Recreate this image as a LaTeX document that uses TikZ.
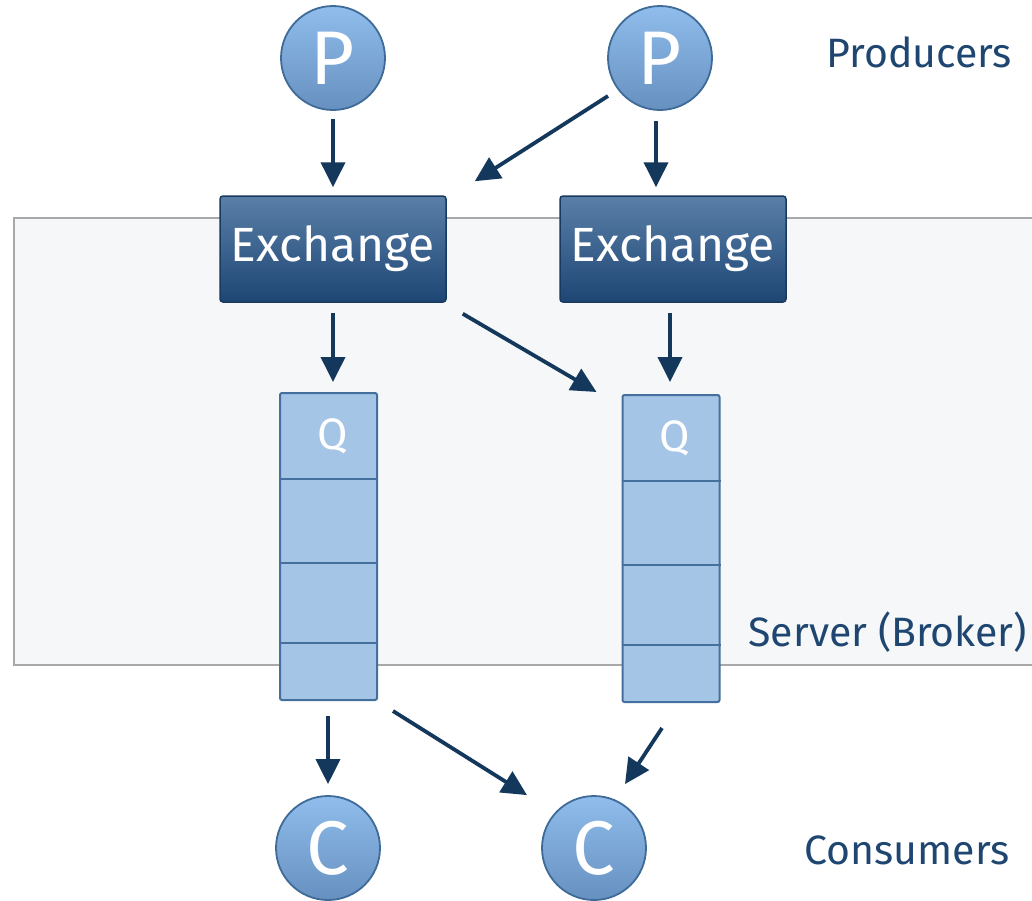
\documentclass[tikz,border=0pt]{standalone}
\usepackage{fontspec}
\setmainfont{Fira Sans}
\usetikzlibrary{arrows.meta,calc}

\definecolor{arrowcol}{HTML}{14375C}
\definecolor{labelcol}{HTML}{1E4670}
\definecolor{serverfill}{HTML}{F6F7F8}
\definecolor{serverline}{HTML}{A8A8A8}
\definecolor{qfill}{HTML}{A5C5E7}
\definecolor{qline}{HTML}{45709E}
\definecolor{circtop}{HTML}{90BDEC}
\definecolor{circbot}{HTML}{6690C0}
\definecolor{circline}{HTML}{3F6B99}
\definecolor{extop}{HTML}{5A80A8}
\definecolor{exbot}{HTML}{1E4674}
\definecolor{exline}{HTML}{183A60}

\tikzset{
  role/.style={circle, minimum size=104pt, inner sep=0pt, draw=circline, line width=1.8pt,
    top color=circtop, bottom color=circbot, text=white,
    font=\fontsize{76}{76}\selectfont},
  exbox/.style={rectangle, rounded corners=3pt, minimum width=226pt, minimum height=106pt,
    inner sep=0pt, draw=exline, line width=1.5pt, top color=extop, bottom color=exbot,
    text=white, font=\fontsize{48}{48}\selectfont},
  queuebox/.style={rectangle, rounded corners=2pt, minimum width=97pt, minimum height=307pt,
    inner sep=0pt, draw=qline, line width=2pt, fill=qfill},
  divider/.style={draw=qline, line width=2pt},
  qlabel/.style={text=white, font=\fontsize{44}{44}\selectfont},
  tag/.style={text=labelcol, anchor=west, font=\fontsize{41}{41}\selectfont},
  flow/.style={draw=arrowcol, line width=3.8pt, -{Triangle[length=25pt,width=24pt]}},
}

\begin{document}
\begin{tikzpicture}[x=1pt,y=-1pt]
  \useasboundingbox (0,0) rectangle (1032,900);
  \fill[white] (0,0) rectangle (1032,900);
  \begin{scope}
    \clip (0,0) rectangle (1032,900);
    % broker area
    \draw[draw=serverline, fill=serverfill, line width=2pt] (14,218) rectangle (1045,665);
  \end{scope}

  % producers
  \node[role] (p1) at (333,58) {P};
  \node[role] (p2) at (660,58) {P};

  % exchanges
  \node[exbox] (ex1) at (333,249) {Exchange};
  \node[exbox] (ex2) at (673,249) {Exchange};

  % queues
  \node[queuebox] (q1) at (328.5,546.5) {};
  \node[queuebox] (q2) at (671,548.5) {};
  \foreach \q in {q1,q2}{
    \draw[divider] ($(\q.north west)+(0,87)$) -- ($(\q.north east)+(0,87)$);
    \draw[divider] ($(\q.north west)+(0,171)$) -- ($(\q.north east)+(0,171)$);
    \draw[divider] ($(\q.north west)+(0,251)$) -- ($(\q.north east)+(0,251)$);
  }
  \node[qlabel] (q1lab) at ($(q1.north)+(4,44)$) {Q};
  \node[qlabel] (q2lab) at ($(q2.north)+(4,44)$) {Q};

  % consumers
  \node[role] (c1) at (328,848) {C};
  \node[role] (c2) at (594,848) {C};

  % labels
  \node[tag] (lprod) at (823,52) {Producers};
  \node[tag] (lserv) at (745,632) {Server (Broker)};
  \node[tag] (lcons) at (801,850) {Consumers};

  % message flow
  \draw[flow] ($(p1.south)+(0,8)$) -- ($(ex1.north)+(0,-8)$);
  \draw[flow] ($(p2.south)+(-4,10)$) -- ($(ex2.north)+(-17,-8)$);
  \draw[flow] ($(p2.center)+(-52,38)$) -- ($(ex1.north east)+(28,-14)$);
  \draw[flow] ($(ex1.south)+(0,10)$) -- ($(q1.north)+(4.5,-10)$);
  \draw[flow] ($(ex2.south)+(-3,10)$) -- ($(q2.north)+(-1,-12)$);
  \draw[flow] ($(ex1.south east)+(16,11)$) -- ($(q2.north west)+(-25,-2)$);
  \draw[flow] ($(q1.south)+(-0.5,15)$) -- ($(c1.north)+(0,-11)$);
  \draw[flow] ($(q1.south east)+(15,10)$) -- ($(c2.north)+(-67,0)$);
  \draw[flow] ($(q2.south)+(-9,25)$) -- ($(c2.north)+(31,-11)$);
\end{tikzpicture}
\end{document}
